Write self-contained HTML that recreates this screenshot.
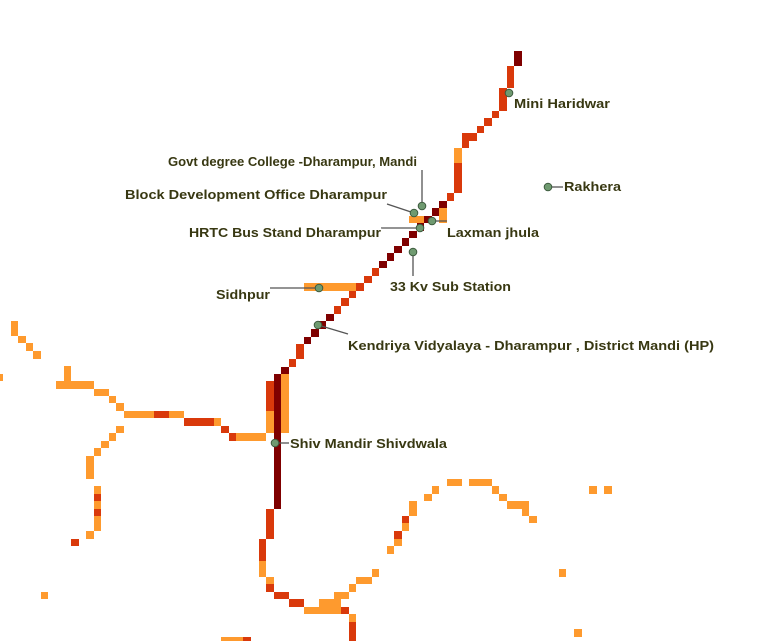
<!DOCTYPE html>
<html><head><meta charset="utf-8"><style>
html,body{margin:0;padding:0;background:#fff;width:776px;height:641px;overflow:hidden}
svg{display:block}
text{font-family:"Liberation Sans",sans-serif;font-weight:bold;font-size:13px;fill:#383812;stroke:#fff;stroke-width:3px;paint-order:stroke;stroke-linejoin:round}
.d{fill:#7f0000}.r{fill:#d9390b}.o{fill:#fe9a2e}
.l{stroke:#555;stroke-width:1.3;fill:none}
.m{fill:#6f9a70;stroke:#3d5a3e;stroke-width:1}
</style></head><body>
<svg width="776" height="641" viewBox="0 0 776 641" shape-rendering="crispEdges">
<!-- main line -->
<rect class="d" x="514" y="51" width="8" height="15"/>
<rect class="r" x="507" y="66" width="7" height="22"/>
<rect class="r" x="499" y="88" width="8" height="23"/>
<rect class="r" x="492" y="111" width="7" height="7"/>
<rect class="r" x="484" y="118" width="8" height="8"/>
<rect class="r" x="477" y="126" width="7" height="7"/>
<rect class="r" x="462" y="133" width="15" height="8"/>
<rect class="r" x="462" y="141" width="7" height="7"/>
<rect class="o" x="454" y="148" width="8" height="15"/>
<rect class="r" x="454" y="163" width="8" height="30"/>
<rect class="r" x="447" y="193" width="7" height="8"/>
<rect class="d" x="439" y="201" width="8" height="7"/>
<rect class="d" x="432" y="208" width="7" height="8"/>
<rect class="o" x="439" y="208" width="8" height="15"/>
<rect class="o" x="409" y="216" width="15" height="7"/>
<rect class="d" x="424" y="216" width="8" height="7"/>
<rect class="d" x="417" y="223" width="7" height="8"/>
<rect class="d" x="409" y="231" width="8" height="7"/>
<rect class="d" x="402" y="238" width="7" height="8"/>
<rect class="d" x="394" y="246" width="8" height="7"/>
<rect class="d" x="387" y="253" width="7" height="8"/>
<rect class="d" x="379" y="261" width="8" height="7"/>
<rect class="r" x="372" y="268" width="7" height="8"/>
<rect class="r" x="364" y="276" width="8" height="7"/>
<rect class="r" x="356" y="283" width="8" height="8"/>
<rect class="o" x="304" y="283" width="52" height="8"/>
<rect class="r" x="349" y="291" width="7" height="7"/>
<rect class="r" x="341" y="298" width="8" height="8"/>
<rect class="r" x="334" y="306" width="7" height="8"/>
<rect class="d" x="326" y="314" width="8" height="7"/>
<rect class="d" x="319" y="321" width="7" height="8"/>
<rect class="d" x="311" y="329" width="8" height="8"/>
<rect class="d" x="304" y="337" width="7" height="7"/>
<rect class="r" x="296" y="344" width="8" height="15"/>
<rect class="r" x="289" y="359" width="7" height="8"/>
<rect class="d" x="281" y="367" width="8" height="7"/>
<rect class="d" x="274" y="374" width="7" height="135"/>
<rect class="o" x="281" y="374" width="8" height="59"/>
<rect class="r" x="266" y="381" width="8" height="30"/>
<rect class="o" x="266" y="411" width="8" height="22"/>
<rect class="o" x="236" y="433" width="30" height="8"/>
<rect class="r" x="229" y="433" width="7" height="8"/>
<rect class="r" x="221" y="426" width="8" height="7"/>
<rect class="o" x="214" y="418" width="7" height="8"/>
<rect class="r" x="184" y="418" width="30" height="8"/>
<rect class="o" x="169" y="411" width="15" height="7"/>
<rect class="r" x="154" y="411" width="15" height="7"/>
<rect class="o" x="124" y="411" width="30" height="7"/>
<rect class="o" x="116" y="403" width="8" height="8"/>
<rect class="o" x="109" y="396" width="7" height="7"/>
<rect class="o" x="94" y="389" width="15" height="7"/>
<rect class="o" x="56" y="381" width="38" height="8"/>
<rect class="o" x="64" y="366" width="7" height="15"/>
<rect class="o" x="0" y="374" width="3" height="7"/>
<rect class="o" x="11" y="321" width="7" height="15"/>
<rect class="o" x="18" y="336" width="8" height="7"/>
<rect class="o" x="26" y="343" width="7" height="8"/>
<rect class="o" x="33" y="351" width="8" height="8"/>
<rect class="o" x="116" y="426" width="8" height="7"/>
<rect class="o" x="109" y="433" width="7" height="8"/>
<rect class="o" x="101" y="441" width="8" height="7"/>
<rect class="o" x="94" y="448" width="7" height="8"/>
<rect class="o" x="86" y="456" width="8" height="23"/>
<rect class="o" x="94" y="486" width="7" height="8"/>
<rect class="r" x="94" y="494" width="7" height="7"/>
<rect class="o" x="94" y="501" width="7" height="8"/>
<rect class="r" x="94" y="509" width="7" height="7"/>
<rect class="o" x="94" y="516" width="7" height="15"/>
<rect class="o" x="86" y="531" width="8" height="8"/>
<rect class="r" x="71" y="539" width="8" height="7"/>
<rect class="o" x="41" y="592" width="7" height="7"/>
<!-- lower -->
<rect class="r" x="266" y="509" width="8" height="30"/>
<rect class="r" x="259" y="539" width="7" height="22"/>
<rect class="o" x="259" y="561" width="7" height="16"/>
<rect class="o" x="266" y="577" width="8" height="7"/>
<rect class="r" x="266" y="584" width="8" height="8"/>
<rect class="r" x="274" y="592" width="15" height="7"/>
<rect class="r" x="289" y="599" width="15" height="8"/>
<rect class="o" x="304" y="607" width="15" height="7"/>
<rect class="o" x="319" y="599" width="22" height="15"/>
<rect class="r" x="341" y="607" width="8" height="7"/>
<rect class="o" x="334" y="592" width="15" height="7"/>
<rect class="o" x="349" y="584" width="7" height="8"/>
<rect class="o" x="356" y="577" width="16" height="7"/>
<rect class="o" x="372" y="569" width="7" height="8"/>
<rect class="o" x="349" y="614" width="7" height="8"/>
<rect class="r" x="349" y="622" width="7" height="19"/>
<rect class="o" x="221" y="637" width="22" height="4"/>
<rect class="r" x="243" y="637" width="8" height="4"/>
<rect class="o" x="387" y="546" width="7" height="8"/>
<rect class="o" x="394" y="539" width="8" height="7"/>
<rect class="r" x="394" y="531" width="8" height="8"/>
<rect class="o" x="402" y="523" width="7" height="8"/>
<rect class="r" x="402" y="516" width="7" height="7"/>
<rect class="o" x="409" y="501" width="8" height="15"/>
<rect class="o" x="424" y="494" width="8" height="7"/>
<rect class="o" x="432" y="486" width="7" height="8"/>
<rect class="o" x="447" y="479" width="15" height="7"/>
<rect class="o" x="469" y="479" width="23" height="7"/>
<rect class="o" x="492" y="486" width="7" height="8"/>
<rect class="o" x="499" y="494" width="8" height="7"/>
<rect class="o" x="507" y="501" width="22" height="8"/>
<rect class="o" x="522" y="509" width="7" height="7"/>
<rect class="o" x="529" y="516" width="8" height="7"/>
<rect class="o" x="559" y="569" width="7" height="8"/>
<rect class="o" x="589" y="486" width="8" height="8"/>
<rect class="o" x="604" y="486" width="8" height="8"/>
<rect class="o" x="574" y="629" width="8" height="8"/>
<!-- leaders -->
<g shape-rendering="auto">
<line class="l" x1="422" y1="206" x2="422" y2="170"/>
<line class="l" x1="414" y1="213" x2="387" y2="204"/>
<line class="l" x1="420" y1="228" x2="381" y2="228"/>
<line class="l" x1="432" y1="221" x2="447" y2="221"/>
<line class="l" x1="413" y1="252" x2="413" y2="276"/>
<line class="l" x1="319" y1="288" x2="270" y2="288"/>
<line class="l" x1="318" y1="325" x2="348" y2="334"/>
<line class="l" x1="275" y1="443" x2="289" y2="443"/>
<line class="l" x1="548" y1="187" x2="563" y2="187"/>
<circle class="m" cx="509" cy="93" r="3.8"/>
<circle class="m" cx="548" cy="187" r="3.8"/>
<circle class="m" cx="422" cy="206" r="3.8"/>
<circle class="m" cx="414" cy="213" r="3.8"/>
<circle class="m" cx="420" cy="228" r="3.8"/>
<circle class="m" cx="432" cy="221" r="3.8"/>
<circle class="m" cx="413" cy="252" r="3.8"/>
<circle class="m" cx="319" cy="288" r="3.8"/>
<circle class="m" cx="318" cy="325" r="3.8"/>
<circle class="m" cx="275" cy="443" r="3.8"/>
<text x="514" y="108" textLength="96" lengthAdjust="spacingAndGlyphs">Mini Haridwar</text>
<text x="564" y="191" textLength="57" lengthAdjust="spacingAndGlyphs">Rakhera</text>
<text x="168" y="166" textLength="249" lengthAdjust="spacingAndGlyphs">Govt degree College -Dharampur, Mandi</text>
<text x="125" y="199" textLength="262" lengthAdjust="spacingAndGlyphs">Block Development Office Dharampur</text>
<text x="189" y="237" textLength="192" lengthAdjust="spacingAndGlyphs">HRTC Bus Stand Dharampur</text>
<text x="447" y="237" textLength="92" lengthAdjust="spacingAndGlyphs">Laxman jhula</text>
<text x="390" y="291" textLength="121" lengthAdjust="spacingAndGlyphs">33 Kv Sub Station</text>
<text x="216" y="299" textLength="54" lengthAdjust="spacingAndGlyphs">Sidhpur</text>
<text x="348" y="350" textLength="366" lengthAdjust="spacingAndGlyphs">Kendriya Vidyalaya - Dharampur , District Mandi (HP)</text>
<text x="290" y="448" textLength="157" lengthAdjust="spacingAndGlyphs">Shiv Mandir Shivdwala</text>
</g>
</svg>
</body></html>
